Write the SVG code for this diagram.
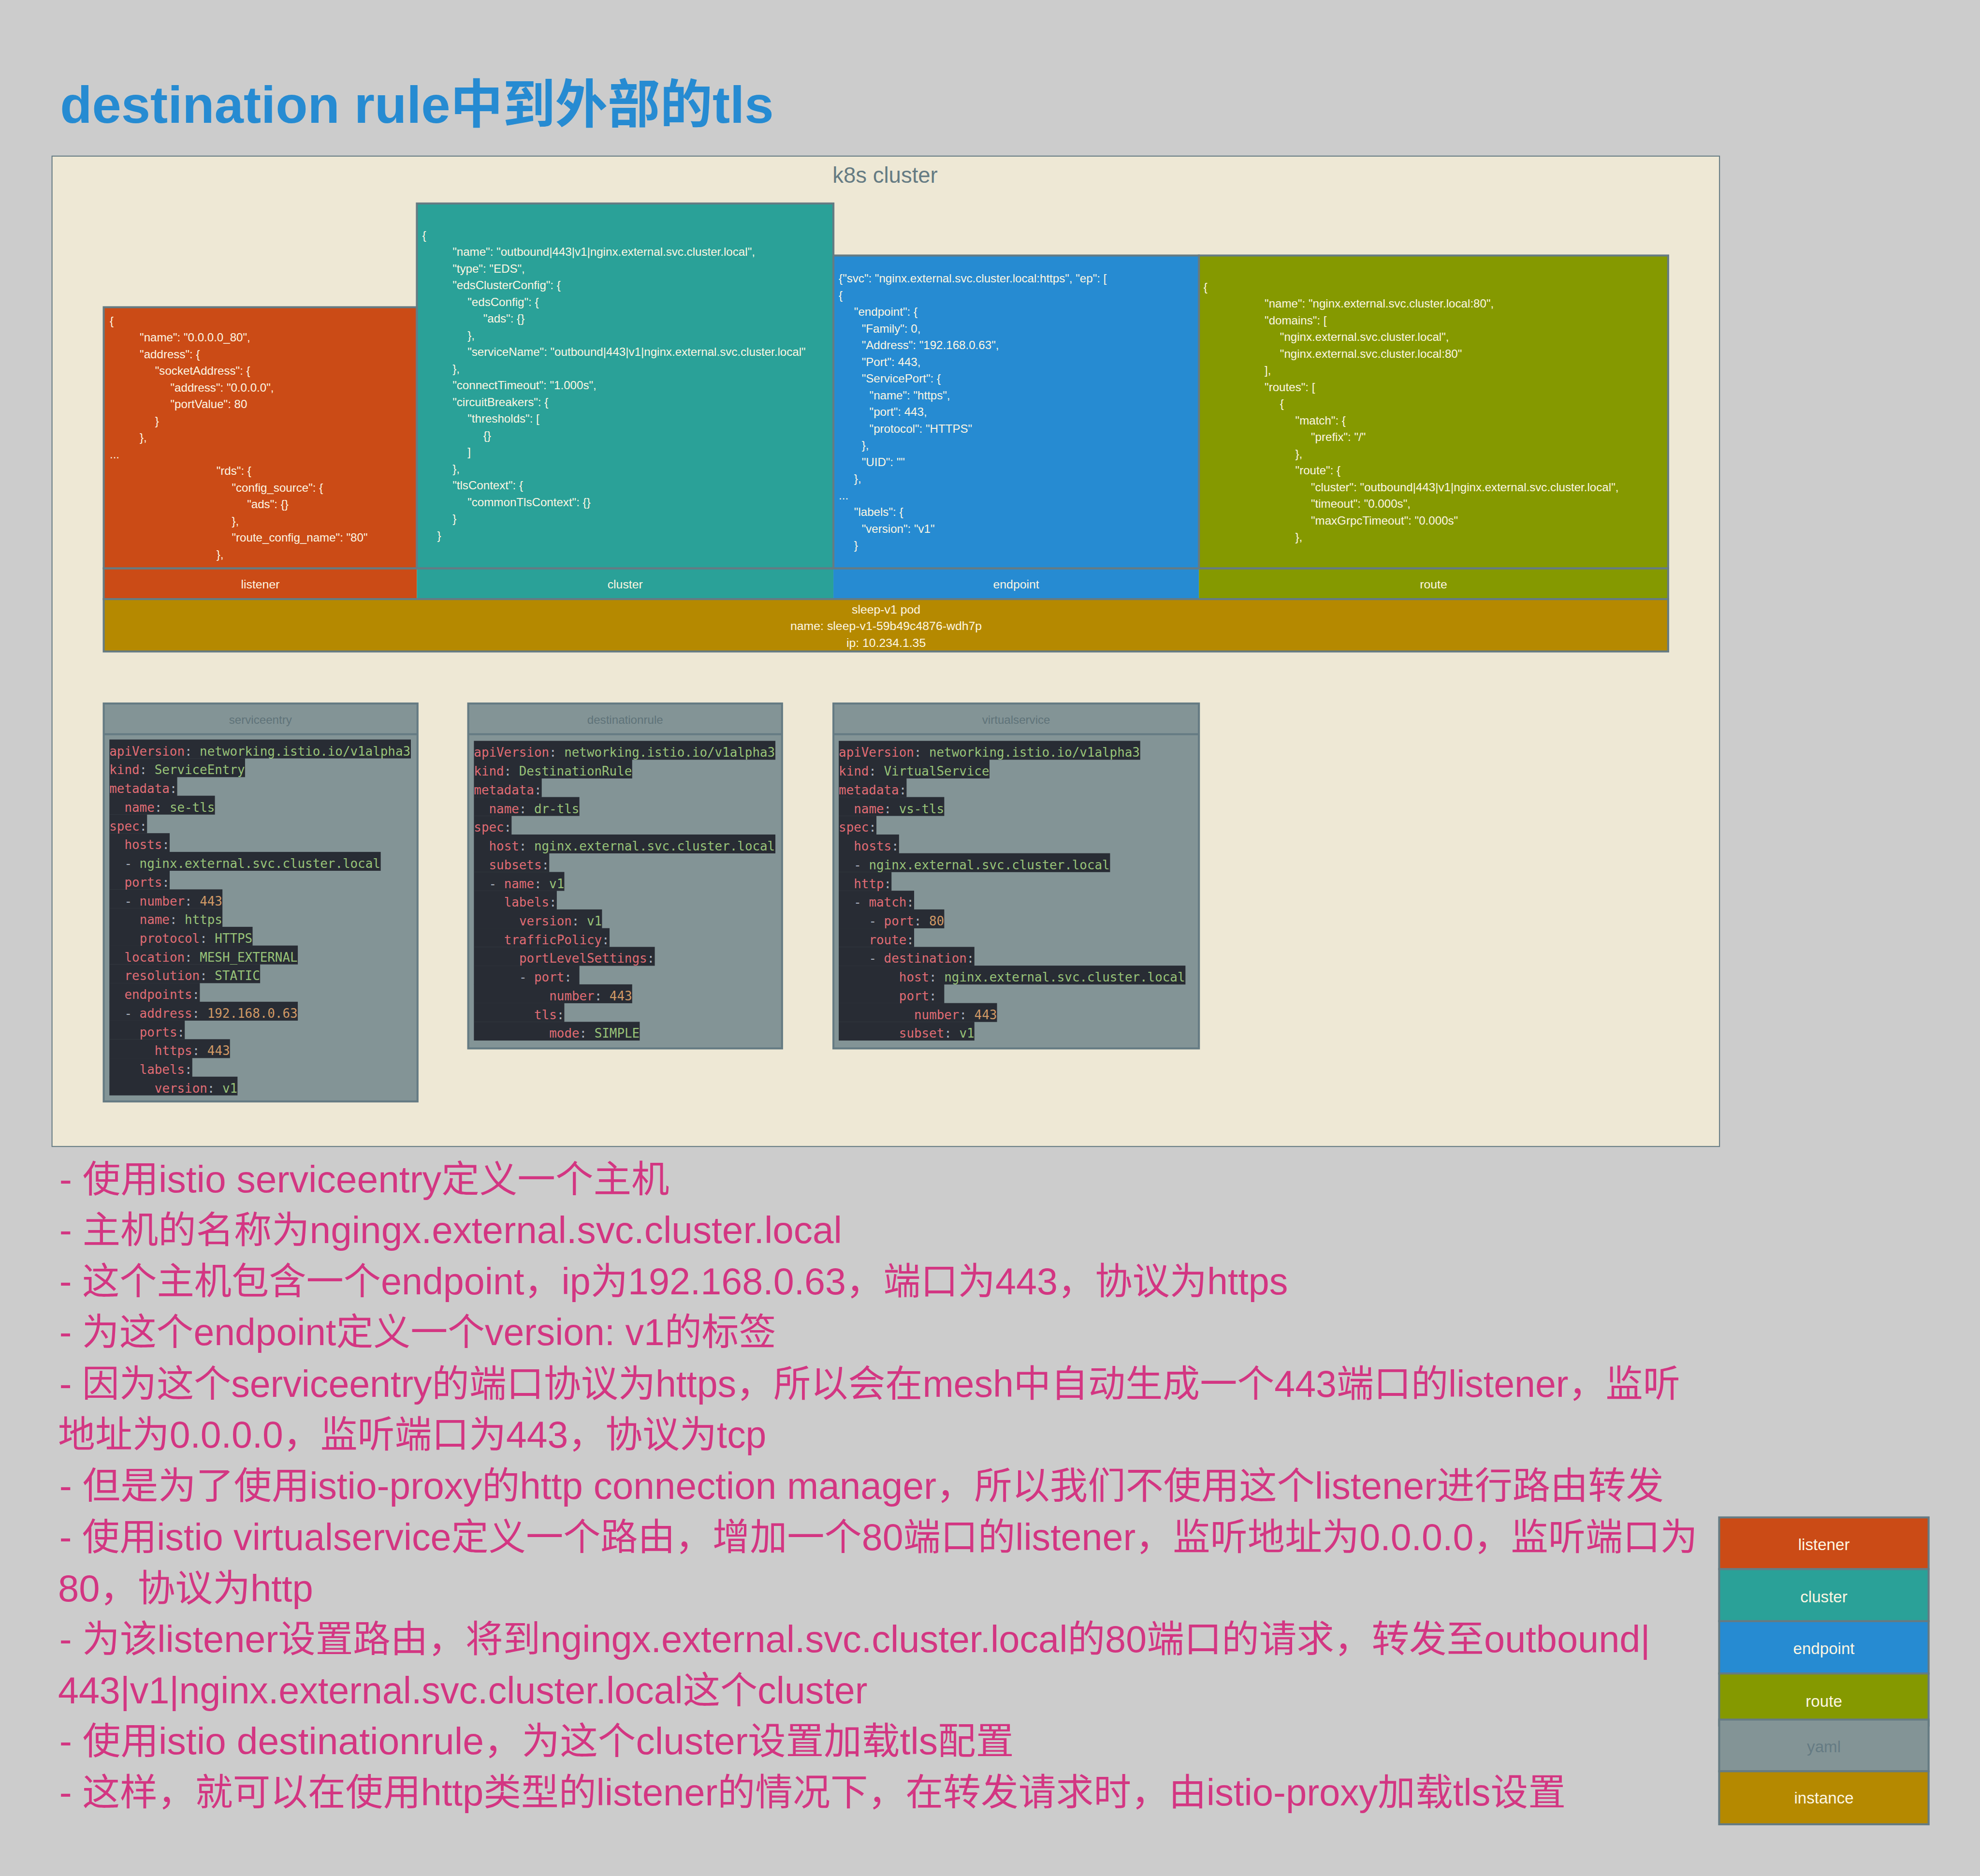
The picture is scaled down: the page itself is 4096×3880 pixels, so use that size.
<svg xmlns="http://www.w3.org/2000/svg" width="4096" height="3880" viewBox="0 0 4096 3880">
<style>
.j{font-family:"Liberation Sans",Arial,sans-serif;font-size:35px;fill:#fdf6e3}
.lbl{font-family:"Liberation Sans",Arial,sans-serif;font-size:36px;fill:#fdf6e3;text-anchor:middle}
.leg{font-family:"Liberation Sans",Arial,sans-serif;font-size:48px;fill:#fdf6e3;text-anchor:middle}
.hdr{font-family:"Liberation Sans",Arial,sans-serif;font-size:35px;fill:#5f7379;text-anchor:middle}
.y{font-family:"DejaVu Sans Mono",monospace;font-size:37.5px}
.k{fill:#e06c75}.s{fill:#98c379}.n{fill:#d19a66}.p{fill:#abb2bf}
.hl{fill:#282c34}
.box{stroke:#657b83;stroke-width:6}
.desc{font-family:"Liberation Sans","Noto Sans CJK SC",sans-serif;font-size:112px;fill:#d33682}
</style>
<rect x="0" y="0" width="4096" height="3880" fill="#cccccc"/>
<g transform="scale(0.6899)">
<g id="title"><text x="180" y="368" font-family="Liberation Sans, Noto Sans CJK SC, sans-serif" font-weight="bold" font-size="156" fill="#268bd2" textLength="2140" lengthAdjust="spacingAndGlyphs">destination rule中到外部的tls</text></g>

<g id="k8s-cluster">
<rect x="156" y="468" width="5000" height="2969" fill="#eee8d5" stroke="#657b83" stroke-width="3"/>
<text x="2654" y="548" font-family="Liberation Sans, Arial, sans-serif" font-size="66" fill="#657b83" text-anchor="middle">k8s cluster</text>
</g>

<g id="listener">
<rect class="box" x="311" y="921" width="939" height="783" fill="#cb4b16"/>
<text class="j" x="329" y="974">{</text>
<text class="j" x="419" y="1024">"name": "0.0.0.0_80",</text>
<text class="j" x="419" y="1074">"address": {</text>
<text class="j" x="465" y="1124">"socketAddress": {</text>
<text class="j" x="511" y="1174">"address": "0.0.0.0",</text>
<text class="j" x="511" y="1224">"portValue": 80</text>
<text class="j" x="465" y="1274">}</text>
<text class="j" x="419" y="1324">},</text>
<text class="j" x="329" y="1374">...</text>
<text class="j" x="649" y="1424">"rds": {</text>
<text class="j" x="695" y="1474">"config_source": {</text>
<text class="j" x="741" y="1524">"ads": {}</text>
<text class="j" x="695" y="1574">},</text>
<text class="j" x="695" y="1624">"route_config_name": "80"</text>
<text class="j" x="649" y="1674">},</text>
<rect x="311" y="1704" width="939" height="92" fill="#cb4b16"/>
<text class="lbl" x="780.5" y="1764">listener</text>
</g>

<g id="cluster">
<rect class="box" x="1250" y="610" width="1249" height="1094" fill="#2aa198"/>
<text class="j" x="1266" y="717">{</text>
<text class="j" x="1357" y="767">"name": "outbound|443|v1|nginx.external.svc.cluster.local",</text>
<text class="j" x="1357" y="817">"type": "EDS",</text>
<text class="j" x="1357" y="867">"edsClusterConfig": {</text>
<text class="j" x="1402" y="917">"edsConfig": {</text>
<text class="j" x="1449" y="967">"ads": {}</text>
<text class="j" x="1402" y="1017">},</text>
<text class="j" x="1402" y="1067">"serviceName": "outbound|443|v1|nginx.external.svc.cluster.local"</text>
<text class="j" x="1357" y="1117">},</text>
<text class="j" x="1357" y="1167">"connectTimeout": "1.000s",</text>
<text class="j" x="1357" y="1217">"circuitBreakers": {</text>
<text class="j" x="1402" y="1267">"thresholds": [</text>
<text class="j" x="1449" y="1317">{}</text>
<text class="j" x="1402" y="1367">]</text>
<text class="j" x="1357" y="1417">},</text>
<text class="j" x="1357" y="1467">"tlsContext": {</text>
<text class="j" x="1402" y="1517">"commonTlsContext": {}</text>
<text class="j" x="1357" y="1567">}</text>
<text class="j" x="1311" y="1617">}</text>
<rect x="1250" y="1704" width="1249" height="92" fill="#2aa198"/>
<text class="lbl" x="1874.5" y="1764">cluster</text>
</g>

<g id="endpoint">
<rect class="box" x="2499" y="766" width="1096" height="938" fill="#268bd2"/>
<text class="j" x="2515" y="847">{"svc": "nginx.external.svc.cluster.local:https", "ep": [</text>
<text class="j" x="2515" y="897">{</text>
<text class="j" x="2561" y="947">"endpoint": {</text>
<text class="j" x="2584" y="997">"Family": 0,</text>
<text class="j" x="2584" y="1047">"Address": "192.168.0.63",</text>
<text class="j" x="2584" y="1097">"Port": 443,</text>
<text class="j" x="2584" y="1147">"ServicePort": {</text>
<text class="j" x="2607" y="1197">"name": "https",</text>
<text class="j" x="2607" y="1247">"port": 443,</text>
<text class="j" x="2607" y="1297">"protocol": "HTTPS"</text>
<text class="j" x="2584" y="1347">},</text>
<text class="j" x="2584" y="1397">"UID": ""</text>
<text class="j" x="2561" y="1447">},</text>
<text class="j" x="2515" y="1497">...</text>
<text class="j" x="2561" y="1547">"labels": {</text>
<text class="j" x="2584" y="1597">"version": "v1"</text>
<text class="j" x="2561" y="1647">}</text>
<rect x="2499" y="1704" width="1096" height="92" fill="#268bd2"/>
<text class="lbl" x="3047" y="1764">endpoint</text>
</g>

<g id="route">
<rect class="box" x="3595" y="766" width="1407" height="938" fill="#859900"/>
<text class="j" x="3609" y="872">{</text>
<text class="j" x="3792" y="922">"name": "nginx.external.svc.cluster.local:80",</text>
<text class="j" x="3792" y="972">"domains": [</text>
<text class="j" x="3838" y="1022">"nginx.external.svc.cluster.local",</text>
<text class="j" x="3838" y="1072">"nginx.external.svc.cluster.local:80"</text>
<text class="j" x="3792" y="1122">],</text>
<text class="j" x="3792" y="1172">"routes": [</text>
<text class="j" x="3838" y="1222">{</text>
<text class="j" x="3884" y="1272">"match": {</text>
<text class="j" x="3931" y="1322">"prefix": "/"</text>
<text class="j" x="3884" y="1372">},</text>
<text class="j" x="3884" y="1422">"route": {</text>
<text class="j" x="3931" y="1472">"cluster": "outbound|443|v1|nginx.external.svc.cluster.local",</text>
<text class="j" x="3931" y="1522">"timeout": "0.000s",</text>
<text class="j" x="3931" y="1572">"maxGrpcTimeout": "0.000s"</text>
<text class="j" x="3884" y="1622">},</text>
<rect x="3595" y="1704" width="1407" height="92" fill="#859900"/>
<text class="lbl" x="4298.5" y="1764">route</text>
</g>
<rect x="311" y="1704" width="4691" height="92" fill="none" stroke="#657b83" stroke-width="6"/>

<g id="sleep-v1-pod">
<rect class="box" x="311" y="1796" width="4691" height="157" fill="#b58900"/>
<text class="lbl" x="2657" y="1839">sleep-v1 pod</text>
<text class="lbl" x="2657" y="1889">name: sleep-v1-59b49c4876-wdh7p</text>
<text class="lbl" x="2657" y="1939">ip: 10.234.1.35</text>
</g>

<g id="serviceentry">
<rect class="box" x="311" y="2109" width="941" height="1193" fill="#839496"/>
<line x1="311" y1="2201" x2="1252" y2="2201" stroke="#657b83" stroke-width="6"/>
<text class="hdr" x="781" y="2170">serviceentry</text>
<g class="hl">
<rect x="328" y="2217" width="904" height="56.6"/>
<rect x="328" y="2273.15" width="406.8" height="56.6"/>
<rect x="328" y="2329.3" width="203.4" height="56.6"/>
<rect x="328" y="2385.45" width="316.4" height="56.6"/>
<rect x="328" y="2441.6" width="113" height="56.6"/>
<rect x="328" y="2497.75" width="180.8" height="56.6"/>
<rect x="328" y="2553.9" width="813.6" height="56.6"/>
<rect x="328" y="2610.05" width="180.8" height="56.6"/>
<rect x="328" y="2666.2" width="339" height="56.6"/>
<rect x="328" y="2722.35" width="339" height="56.6"/>
<rect x="328" y="2778.5" width="429.4" height="56.6"/>
<rect x="328" y="2834.65" width="565" height="56.6"/>
<rect x="328" y="2890.8" width="452" height="56.6"/>
<rect x="328" y="2946.95" width="271.2" height="56.6"/>
<rect x="328" y="3003.1" width="565" height="56.6"/>
<rect x="328" y="3059.25" width="226" height="56.6"/>
<rect x="328" y="3115.4" width="361.6" height="56.6"/>
<rect x="328" y="3171.55" width="248.6" height="56.6"/>
<rect x="328" y="3227.7" width="384.2" height="56.15"/>
</g>
<text class="y" x="328" y="2265"><tspan class="k">apiVersion</tspan><tspan class="p">: </tspan><tspan class="s">networking.istio.io/v1alpha3</tspan></text>
<text class="y" x="328" y="2321.15"><tspan class="k">kind</tspan><tspan class="p">: </tspan><tspan class="s">ServiceEntry</tspan></text>
<text class="y" x="328" y="2377.3"><tspan class="k">metadata</tspan><tspan class="p">:</tspan></text>
<text class="y" x="373.2" y="2433.45"><tspan class="k">name</tspan><tspan class="p">: </tspan><tspan class="s">se-tls</tspan></text>
<text class="y" x="328" y="2489.6"><tspan class="k">spec</tspan><tspan class="p">:</tspan></text>
<text class="y" x="373.2" y="2545.75"><tspan class="k">hosts</tspan><tspan class="p">:</tspan></text>
<text class="y" x="373.2" y="2601.9"><tspan class="p">- </tspan><tspan class="s">nginx.external.svc.cluster.local</tspan></text>
<text class="y" x="373.2" y="2658.05"><tspan class="k">ports</tspan><tspan class="p">:</tspan></text>
<text class="y" x="373.2" y="2714.2"><tspan class="p">- </tspan><tspan class="k">number</tspan><tspan class="p">: </tspan><tspan class="n">443</tspan></text>
<text class="y" x="418.4" y="2770.35"><tspan class="k">name</tspan><tspan class="p">: </tspan><tspan class="s">https</tspan></text>
<text class="y" x="418.4" y="2826.5"><tspan class="k">protocol</tspan><tspan class="p">: </tspan><tspan class="s">HTTPS</tspan></text>
<text class="y" x="373.2" y="2882.65"><tspan class="k">location</tspan><tspan class="p">: </tspan><tspan class="s">MESH_EXTERNAL</tspan></text>
<text class="y" x="373.2" y="2938.8"><tspan class="k">resolution</tspan><tspan class="p">: </tspan><tspan class="s">STATIC</tspan></text>
<text class="y" x="373.2" y="2994.95"><tspan class="k">endpoints</tspan><tspan class="p">:</tspan></text>
<text class="y" x="373.2" y="3051.1"><tspan class="p">- </tspan><tspan class="k">address</tspan><tspan class="p">: </tspan><tspan class="n">192.168.0.63</tspan></text>
<text class="y" x="418.4" y="3107.25"><tspan class="k">ports</tspan><tspan class="p">:</tspan></text>
<text class="y" x="463.6" y="3163.4"><tspan class="k">https</tspan><tspan class="p">: </tspan><tspan class="n">443</tspan></text>
<text class="y" x="418.4" y="3219.55"><tspan class="k">labels</tspan><tspan class="p">:</tspan></text>
<text class="y" x="463.6" y="3275.7"><tspan class="k">version</tspan><tspan class="p">: </tspan><tspan class="s">v1</tspan></text>
</g>

<g id="destinationrule">
<rect class="box" x="1404" y="2109" width="941" height="1034" fill="#839496"/>
<line x1="1404" y1="2201" x2="2345" y2="2201" stroke="#657b83" stroke-width="6"/>
<text class="hdr" x="1874.5" y="2170">destinationrule</text>
<g class="hl">
<rect x="1421" y="2221" width="904" height="56.6"/>
<rect x="1421" y="2277.15" width="474.6" height="56.6"/>
<rect x="1421" y="2333.3" width="203.4" height="56.6"/>
<rect x="1421" y="2389.45" width="316.4" height="56.6"/>
<rect x="1421" y="2445.6" width="113" height="56.6"/>
<rect x="1421" y="2501.75" width="904" height="56.6"/>
<rect x="1421" y="2557.9" width="226" height="56.6"/>
<rect x="1421" y="2614.05" width="271.2" height="56.6"/>
<rect x="1421" y="2670.2" width="248.6" height="56.6"/>
<rect x="1421" y="2726.35" width="384.2" height="56.6"/>
<rect x="1421" y="2782.5" width="406.8" height="56.6"/>
<rect x="1421" y="2838.65" width="542.4" height="56.6"/>
<rect x="1421" y="2894.8" width="316.4" height="56.6"/>
<rect x="1421" y="2950.95" width="474.6" height="56.6"/>
<rect x="1421" y="3007.1" width="271.2" height="56.6"/>
<rect x="1421" y="3063.25" width="497.2" height="56.15"/>
</g>
<text class="y" x="1421" y="2269"><tspan class="k">apiVersion</tspan><tspan class="p">: </tspan><tspan class="s">networking.istio.io/v1alpha3</tspan></text>
<text class="y" x="1421" y="2325.15"><tspan class="k">kind</tspan><tspan class="p">: </tspan><tspan class="s">DestinationRule</tspan></text>
<text class="y" x="1421" y="2381.3"><tspan class="k">metadata</tspan><tspan class="p">:</tspan></text>
<text class="y" x="1466.2" y="2437.45"><tspan class="k">name</tspan><tspan class="p">: </tspan><tspan class="s">dr-tls</tspan></text>
<text class="y" x="1421" y="2493.6"><tspan class="k">spec</tspan><tspan class="p">:</tspan></text>
<text class="y" x="1466.2" y="2549.75"><tspan class="k">host</tspan><tspan class="p">: </tspan><tspan class="s">nginx.external.svc.cluster.local</tspan></text>
<text class="y" x="1466.2" y="2605.9"><tspan class="k">subsets</tspan><tspan class="p">:</tspan></text>
<text class="y" x="1466.2" y="2662.05"><tspan class="p">- </tspan><tspan class="k">name</tspan><tspan class="p">: </tspan><tspan class="s">v1</tspan></text>
<text class="y" x="1511.4" y="2718.2"><tspan class="k">labels</tspan><tspan class="p">:</tspan></text>
<text class="y" x="1556.6" y="2774.35"><tspan class="k">version</tspan><tspan class="p">: </tspan><tspan class="s">v1</tspan></text>
<text class="y" x="1511.4" y="2830.5"><tspan class="k">trafficPolicy</tspan><tspan class="p">:</tspan></text>
<text class="y" x="1556.6" y="2886.65"><tspan class="k">portLevelSettings</tspan><tspan class="p">:</tspan></text>
<text class="y" x="1556.6" y="2942.8"><tspan class="p">- </tspan><tspan class="k">port</tspan><tspan class="p">:</tspan></text>
<text class="y" x="1647" y="2998.95"><tspan class="k">number</tspan><tspan class="p">: </tspan><tspan class="n">443</tspan></text>
<text class="y" x="1601.8" y="3055.1"><tspan class="k">tls</tspan><tspan class="p">:</tspan></text>
<text class="y" x="1647" y="3111.25"><tspan class="k">mode</tspan><tspan class="p">: </tspan><tspan class="s">SIMPLE</tspan></text>
</g>

<g id="virtualservice">
<rect class="box" x="2499" y="2109" width="1096" height="1034" fill="#839496"/>
<line x1="2499" y1="2201" x2="3595" y2="2201" stroke="#657b83" stroke-width="6"/>
<text class="hdr" x="3047" y="2170">virtualservice</text>
<g class="hl">
<rect x="2515" y="2221" width="904" height="56.6"/>
<rect x="2515" y="2277.15" width="452" height="56.6"/>
<rect x="2515" y="2333.3" width="203.4" height="56.6"/>
<rect x="2515" y="2389.45" width="316.4" height="56.6"/>
<rect x="2515" y="2445.6" width="113" height="56.6"/>
<rect x="2515" y="2501.75" width="180.8" height="56.6"/>
<rect x="2515" y="2557.9" width="813.6" height="56.6"/>
<rect x="2515" y="2614.05" width="158.2" height="56.6"/>
<rect x="2515" y="2670.2" width="226" height="56.6"/>
<rect x="2515" y="2726.35" width="316.4" height="56.6"/>
<rect x="2515" y="2782.5" width="226" height="56.6"/>
<rect x="2515" y="2838.65" width="406.8" height="56.6"/>
<rect x="2515" y="2894.8" width="1039.6" height="56.6"/>
<rect x="2515" y="2950.95" width="316.4" height="56.6"/>
<rect x="2515" y="3007.1" width="474.6" height="56.6"/>
<rect x="2515" y="3063.25" width="406.8" height="56.15"/>
</g>
<text class="y" x="2515" y="2269"><tspan class="k">apiVersion</tspan><tspan class="p">: </tspan><tspan class="s">networking.istio.io/v1alpha3</tspan></text>
<text class="y" x="2515" y="2325.15"><tspan class="k">kind</tspan><tspan class="p">: </tspan><tspan class="s">VirtualService</tspan></text>
<text class="y" x="2515" y="2381.3"><tspan class="k">metadata</tspan><tspan class="p">:</tspan></text>
<text class="y" x="2560.2" y="2437.45"><tspan class="k">name</tspan><tspan class="p">: </tspan><tspan class="s">vs-tls</tspan></text>
<text class="y" x="2515" y="2493.6"><tspan class="k">spec</tspan><tspan class="p">:</tspan></text>
<text class="y" x="2560.2" y="2549.75"><tspan class="k">hosts</tspan><tspan class="p">:</tspan></text>
<text class="y" x="2560.2" y="2605.9"><tspan class="p">- </tspan><tspan class="s">nginx.external.svc.cluster.local</tspan></text>
<text class="y" x="2560.2" y="2662.05"><tspan class="k">http</tspan><tspan class="p">:</tspan></text>
<text class="y" x="2560.2" y="2718.2"><tspan class="p">- </tspan><tspan class="k">match</tspan><tspan class="p">:</tspan></text>
<text class="y" x="2605.4" y="2774.35"><tspan class="p">- </tspan><tspan class="k">port</tspan><tspan class="p">: </tspan><tspan class="n">80</tspan></text>
<text class="y" x="2605.4" y="2830.5"><tspan class="k">route</tspan><tspan class="p">:</tspan></text>
<text class="y" x="2605.4" y="2886.65"><tspan class="p">- </tspan><tspan class="k">destination</tspan><tspan class="p">:</tspan></text>
<text class="y" x="2695.8" y="2942.8"><tspan class="k">host</tspan><tspan class="p">: </tspan><tspan class="s">nginx.external.svc.cluster.local</tspan></text>
<text class="y" x="2695.8" y="2998.95"><tspan class="k">port</tspan><tspan class="p">:</tspan></text>
<text class="y" x="2741" y="3055.1"><tspan class="k">number</tspan><tspan class="p">: </tspan><tspan class="n">443</tspan></text>
<text class="y" x="2695.8" y="3111.25"><tspan class="k">subset</tspan><tspan class="p">: </tspan><tspan class="s">v1</tspan></text>
</g>

<g id="connectors"></g>

<g id="notes">
<text class="desc" x="178" y="3574" textLength="1829" lengthAdjust="spacingAndGlyphs">- 使用istio serviceentry定义一个主机</text>
<text class="desc" x="178" y="3727" textLength="2347" lengthAdjust="spacingAndGlyphs">- 主机的名称为ngingx.external.svc.cluster.local</text>
<text class="desc" x="178" y="3880" textLength="3684" lengthAdjust="spacingAndGlyphs">- 这个主机包含一个endpoint，ip为192.168.0.63，端口为443，协议为https</text>
<text class="desc" x="178" y="4033" textLength="2149" lengthAdjust="spacingAndGlyphs">- 为这个endpoint定义一个version: v1的标签</text>
<text class="desc" x="178" y="4187" textLength="4860" lengthAdjust="spacingAndGlyphs">- 因为这个serviceentry的端口协议为https，所以会在mesh中自动生成一个443端口的listener，监听</text>
<text class="desc" x="174" y="4340" textLength="2124" lengthAdjust="spacingAndGlyphs">地址为0.0.0.0，监听端口为443，协议为tcp</text>
<text class="desc" x="178" y="4494" textLength="4811" lengthAdjust="spacingAndGlyphs">- 但是为了使用istio-proxy的http connection manager，所以我们不使用这个listener进行路由转发</text>
<text class="desc" x="178" y="4647" textLength="4912" lengthAdjust="spacingAndGlyphs">- 使用istio virtualservice定义一个路由，增加一个80端口的listener，监听地址为0.0.0.0，监听端口为</text>
<text class="desc" x="174" y="4800" textLength="765" lengthAdjust="spacingAndGlyphs">80，协议为http</text>
<text class="desc" x="178" y="4953" textLength="4770" lengthAdjust="spacingAndGlyphs">- 为该listener设置路由，将到ngingx.external.svc.cluster.local的80端口的请求，转发至outbound|</text>
<text class="desc" x="174" y="5106" textLength="2427" lengthAdjust="spacingAndGlyphs">443|v1|nginx.external.svc.cluster.local这个cluster</text>
<text class="desc" x="178" y="5259" textLength="2862" lengthAdjust="spacingAndGlyphs">- 使用istio destinationrule，为这个cluster设置加载tls配置</text>
<text class="desc" x="178" y="5412" textLength="4517" lengthAdjust="spacingAndGlyphs">- 这样，就可以在使用http类型的listener的情况下，在转发请求时，由istio-proxy加载tls设置</text>
</g>

<g id="legend">
<rect class="box" x="5155" y="4549" width="628" height="155" fill="#cb4b16"/>
<text class="leg" x="5469" y="4647">listener</text>
<rect class="box" x="5155" y="4704" width="628" height="156" fill="#2aa198"/>
<text class="leg" x="5469" y="4803">cluster</text>
<rect class="box" x="5155" y="4860" width="628" height="157" fill="#268bd2"/>
<text class="leg" x="5469" y="4959">endpoint</text>
<rect class="box" x="5155" y="5017" width="628" height="156" fill="#859900"/>
<text class="leg" x="5469" y="5116">route</text>
<rect class="box" x="5155" y="5155" width="628" height="155" fill="#839496"/>
<text class="leg" x="5469" y="5253" style="fill:#657b83">yaml</text>
<rect class="box" x="5155" y="5310" width="628" height="159" fill="#b58900"/>
<text class="leg" x="5469" y="5407">instance</text>
</g>
</g>
</svg>
